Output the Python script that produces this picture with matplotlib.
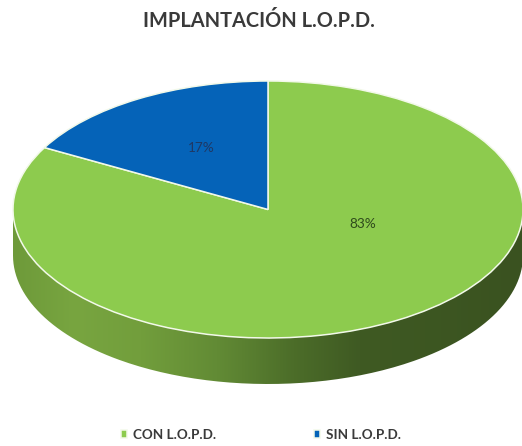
import numpy as np
import matplotlib
matplotlib.use("Agg")
import matplotlib.pyplot as plt
from matplotlib.colors import LinearSegmentedColormap
from matplotlib.patches import PathPatch
from matplotlib.path import Path

title = "IMPLANTACIÓN L.O.P.D."
categories = ["CON L.O.P.D.", "SIN L.O.P.D."]
values = [83, 17]
labels = ["83%", "17%"]
colors = ["#8DCB4E", "#0563B8"]
edge = "#F2F9E9"
ink = "#3A3A3A"

W, H = 522, 446
plt.rcParams["font.family"] = ["Lato", "DejaVu Sans"]
fig = plt.figure(figsize=(W / 100, H / 100), dpi=100, facecolor="white")

# axes box: ellipse of the top face plus the depth of the wall
cx, cy, rx, ry, depth_px = 268, 209.5, 255, 128.5, 46
depth = depth_px / ry
ax = fig.add_axes([(cx - rx) / W, 1 - (cy + ry + depth_px) / H,
                   2 * rx / W, (2 * ry + depth_px) / H])

# side wall with a horizontal gradient
t = np.linspace(np.pi, 2 * np.pi, 200)
xs, ys = np.cos(t), np.sin(t)
verts = np.r_[np.c_[xs, ys], np.c_[xs[::-1], ys[::-1] - depth], [[xs[0], ys[0]]]]
wall = PathPatch(Path(verts), facecolor="none", edgecolor="none")
ax.add_patch(wall)
cmap = LinearSegmentedColormap.from_list("wall", [
    (0.00, "#6E9A3A"), (0.12, "#78A540"), (0.25, "#729E3C"), (0.40, "#628B35"),
    (0.55, "#4C6D29"), (0.68, "#3F5A23"), (1.00, "#3A5220")])
img = ax.imshow(np.linspace(0, 1, 256)[None, :], cmap=cmap, extent=(-1, 1, -1 - depth, 1),
                aspect="auto", zorder=1)
img.set_clip_path(wall)

# top face
wedges, _ = ax.pie(values, colors=colors, startangle=90, counterclock=False, radius=1,
                   wedgeprops=dict(edgecolor=edge, linewidth=1.1, zorder=2))
ax.set_aspect("auto")
ax.set_xlim(-1, 1)
ax.set_ylim(-1 - depth, 1)
ax.axis("off")

ax.text(0.373, -0.113, labels[0], ha="center", va="center", fontsize=9.8, color="#2F4A1C", zorder=5)
ax.text(-0.263, 0.479, labels[1], ha="center", va="center", fontsize=9.8, color="#1F3864", zorder=5)

fig.text(259 / W, 1 - 21 / H, title, ha="center", va="center", fontsize=14.4,
         fontweight="bold", color=ink)
fig.legend(wedges, categories, ncol=2, loc="center", bbox_to_anchor=(261 / W, 1 - 435 / H),
           frameon=False, fontsize=9.7, labelcolor=ink, handlelength=0.5, handleheight=0.5,
           handletextpad=0.45, columnspacing=7.2, borderpad=0)
for lt in fig.legends[0].get_texts():
    lt.set_fontweight("bold")
fig.savefig("out.png", dpi=100, facecolor="white")
